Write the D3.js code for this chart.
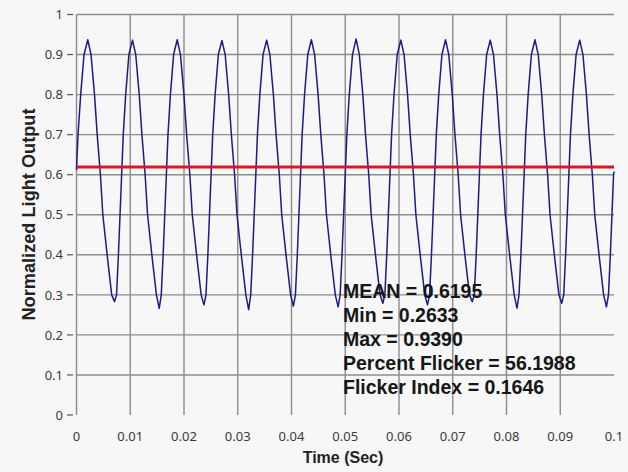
<!DOCTYPE html>
<html><head><meta charset="utf-8">
<script src="https://cdn.jsdelivr.net/npm/d3@7"></script>
<style>html,body{margin:0;padding:0;background:#f7f7f7;} svg{display:block}</style>
</head><body><svg id="c" width="628" height="472"></svg>
<script>
// ---- data ----
const xTicks = [0, 0.01, 0.02, 0.03, 0.04, 0.05, 0.06, 0.07, 0.08, 0.09, 0.1];
const yTicks = [0, 0.1, 0.2, 0.3, 0.4, 0.5, 0.6, 0.7, 0.8, 0.9, 1];
const meanValue = 0.6195;
const statsLines = ["MEAN = 0.6195", "Min = 0.2633", "Max = 0.9390", "Percent Flicker = 56.1988", "Flicker Index = 0.1646"];
const xTitle = "Time (Sec)";
const yTitle = "Normalized  Light Output";

const timeSec = [
  0, 0.00028, 0.00078, 0.00140,
  0.00210, 0.00270, 0.00335, 0.00385, 0.00445, 0.00490, 0.00570, 0.00655, 0.00707, 0.00745, 0.00780, 0.00810, 0.00840, 0.00870, 0.00915, 0.00975,
  0.01042, 0.01102, 0.01167, 0.01217, 0.01277, 0.01322, 0.01402, 0.01487, 0.01539, 0.01577, 0.01612, 0.01642, 0.01672, 0.01702, 0.01747, 0.01807,
  0.01874, 0.01934, 0.01999, 0.02049, 0.02109, 0.02154, 0.02234, 0.02319, 0.02371, 0.02409, 0.02444, 0.02474, 0.02504, 0.02534, 0.02579, 0.02639,
  0.02706, 0.02766, 0.02831, 0.02881, 0.02941, 0.02986, 0.03066, 0.03151, 0.03203, 0.03241, 0.03276, 0.03306, 0.03336, 0.03366, 0.03411, 0.03471,
  0.03538, 0.03598, 0.03663, 0.03713, 0.03773, 0.03818, 0.03898, 0.03983, 0.04035, 0.04073, 0.04108, 0.04138, 0.04168, 0.04198, 0.04243, 0.04303,
  0.04370, 0.04430, 0.04495, 0.04545, 0.04605, 0.04650, 0.04730, 0.04815, 0.04867, 0.04905, 0.04940, 0.04970, 0.05000, 0.05030, 0.05075, 0.05135,
  0.05202, 0.05262, 0.05327, 0.05377, 0.05437, 0.05482, 0.05562, 0.05647, 0.05699, 0.05737, 0.05772, 0.05802, 0.05832, 0.05862, 0.05907, 0.05967,
  0.06034, 0.06094, 0.06159, 0.06209, 0.06269, 0.06314, 0.06394, 0.06479, 0.06531, 0.06569, 0.06604, 0.06634, 0.06664, 0.06694, 0.06739, 0.06799,
  0.06866, 0.06926, 0.06991, 0.07041, 0.07101, 0.07146, 0.07226, 0.07311, 0.07363, 0.07401, 0.07436, 0.07466, 0.07496, 0.07526, 0.07571, 0.07631,
  0.07698, 0.07758, 0.07823, 0.07873, 0.07933, 0.07978, 0.08058, 0.08143, 0.08195, 0.08233, 0.08268, 0.08298, 0.08328, 0.08358, 0.08403, 0.08463,
  0.08530, 0.08590, 0.08655, 0.08705, 0.08765, 0.08810, 0.08890, 0.08975, 0.09027, 0.09065, 0.09100, 0.09130, 0.09160, 0.09190, 0.09235, 0.09295,
  0.09362, 0.09422, 0.09487, 0.09537, 0.09597, 0.09642, 0.09722, 0.09807, 0.09859, 0.09897, 0.09932, 0.09962, 0.09992,
  0.1
];
const lightOutput = [
  0.612, 0.70, 0.80, 0.90,
  0.937, 0.90, 0.80, 0.70, 0.60, 0.50, 0.40, 0.30, 0.283, 0.30, 0.40, 0.50, 0.60, 0.70, 0.80, 0.90,
  0.936, 0.90, 0.80, 0.70, 0.60, 0.50, 0.40, 0.30, 0.266, 0.30, 0.40, 0.50, 0.60, 0.70, 0.80, 0.90,
  0.937, 0.90, 0.80, 0.70, 0.60, 0.50, 0.40, 0.30, 0.275, 0.30, 0.40, 0.50, 0.60, 0.70, 0.80, 0.90,
  0.935, 0.90, 0.80, 0.70, 0.60, 0.50, 0.40, 0.30, 0.2633, 0.30, 0.40, 0.50, 0.60, 0.70, 0.80, 0.90,
  0.936, 0.90, 0.80, 0.70, 0.60, 0.50, 0.40, 0.30, 0.272, 0.30, 0.40, 0.50, 0.60, 0.70, 0.80, 0.90,
  0.937, 0.90, 0.80, 0.70, 0.60, 0.50, 0.40, 0.30, 0.270, 0.30, 0.40, 0.50, 0.60, 0.70, 0.80, 0.90,
  0.939, 0.90, 0.80, 0.70, 0.60, 0.50, 0.40, 0.30, 0.279, 0.30, 0.40, 0.50, 0.60, 0.70, 0.80, 0.90,
  0.936, 0.90, 0.80, 0.70, 0.60, 0.50, 0.40, 0.30, 0.275, 0.30, 0.40, 0.50, 0.60, 0.70, 0.80, 0.90,
  0.937, 0.90, 0.80, 0.70, 0.60, 0.50, 0.40, 0.30, 0.283, 0.30, 0.40, 0.50, 0.60, 0.70, 0.80, 0.90,
  0.936, 0.90, 0.80, 0.70, 0.60, 0.50, 0.40, 0.30, 0.267, 0.30, 0.40, 0.50, 0.60, 0.70, 0.80, 0.90,
  0.937, 0.90, 0.80, 0.70, 0.60, 0.50, 0.40, 0.30, 0.279, 0.30, 0.40, 0.50, 0.60, 0.70, 0.80, 0.90,
  0.936, 0.90, 0.80, 0.70, 0.60, 0.50, 0.40, 0.30, 0.270, 0.30, 0.40, 0.50, 0.60,
  0.608
];

// ---- drawing ----
const svg = d3.select("#c");
const x = d3.scaleLinear().domain([0, 0.1]).range([76.5, 614]);
const y = d3.scaleLinear().domain([0, 1]).range([415, 14.5]);
const gridColor = "#8c8c8c";
const tickFont = "'Noto Sans', 'Open Sans', sans-serif";
const boldFont = "'Liberation Sans', Arial, sans-serif";

// horizontal grid lines (0.1 .. 1)
svg.append("g").selectAll("line").data(yTicks.filter(d => d > 0)).join("line")
  .attr("x1", x(0)).attr("x2", x(0.1))
  .attr("y1", d => y(d)).attr("y2", d => y(d))
  .attr("stroke", gridColor).attr("stroke-width", 1.4);
// vertical grid lines (0.01 .. 0.09)
svg.append("g").selectAll("line").data(xTicks.filter(d => d > 0 && d < 0.1)).join("line")
  .attr("x1", d => x(d)).attr("x2", d => x(d))
  .attr("y1", y(1)).attr("y2", y(0))
  .attr("stroke", gridColor).attr("stroke-width", 1.4);
// left axis line
svg.append("line").attr("x1", x(0)).attr("x2", x(0)).attr("y1", y(1)).attr("y2", y(0))
  .attr("stroke", gridColor).attr("stroke-width", 1.4);
// y ticks + labels
const yAxisG = svg.append("g");
yAxisG.selectAll("line").data(yTicks).join("line")
  .attr("x1", 67).attr("x2", 73).attr("y1", d => y(d)).attr("y2", d => y(d))
  .attr("stroke", "#555").attr("stroke-width", 1.2);
yAxisG.selectAll("text").data(yTicks).join("text")
  .attr("x", 63).attr("y", d => y(d)).attr("dy", "0.36em")
  .attr("text-anchor", "end").attr("font-family", tickFont).attr("font-size", 13)
  .attr("fill", "#3a3a3a").text(d => String(d));
// x labels
svg.append("g").selectAll("text").data(xTicks).join("text")
  .attr("x", d => x(d)).attr("y", 441)
  .attr("text-anchor", "middle").attr("font-family", tickFont).attr("font-size", 13)
  .attr("fill", "#3a3a3a").text(d => String(d));

// waveform
const pts = timeSec.map((t, i) => [t, lightOutput[i]]);
svg.append("path").datum(pts)
  .attr("d", d3.line().x(d => x(d[0])).y(d => y(d[1])).curve(d3.curveLinear))
  .attr("fill", "none").attr("stroke", "#1c1c86").attr("stroke-width", 1.5)
  .attr("stroke-linejoin", "round");

// mean line
svg.append("line").attr("x1", x(0)).attr("x2", x(0.1))
  .attr("y1", y(meanValue)).attr("y2", y(meanValue))
  .attr("stroke", "#e3141c").attr("stroke-width", 3);

// stats text
svg.append("g").selectAll("text").data(statsLines).join("text")
  .attr("x", 343).attr("y", (d, i) => 297.5 + i * 24)
  .attr("font-family", boldFont).attr("font-weight", "bold").attr("font-size", 19.5)
  .attr("fill", "#161616").text(d => d);

// axis titles
svg.append("text").attr("x", 343).attr("y", 463).attr("text-anchor", "middle")
  .attr("font-family", boldFont).attr("font-weight", "bold").attr("font-size", 16)
  .attr("fill", "#222").text(xTitle);
svg.append("text").attr("transform", "translate(35,214.5) rotate(-90)")
  .attr("text-anchor", "middle")
  .attr("font-family", boldFont).attr("font-weight", "bold").attr("font-size", 17.5)
  .attr("textLength", 212).attr("lengthAdjust", "spacingAndGlyphs")
  .attr("fill", "#222").text(yTitle);
</script></body></html>
